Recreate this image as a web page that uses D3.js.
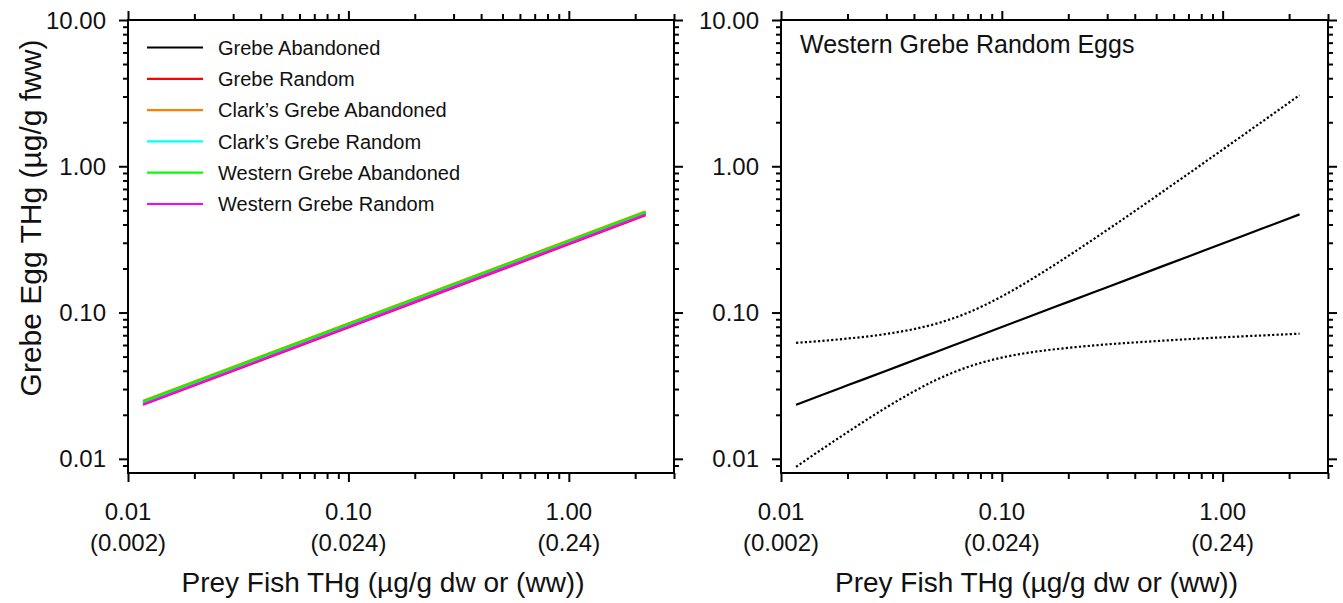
<!DOCTYPE html>
<html lang="en">
  <head>
    <meta charset="utf-8">
    <title>Grebe egg THg vs prey fish THg</title>
    <script src="https://d3js.org/d3.v7.min.js"></script>
    <style type="text/css">
      body { margin: 0; background: #fff; }
      svg { font-family: "Liberation Sans", Arial, sans-serif; }
      .frame { fill: none; stroke: #000; stroke-width: 2px; }
      .axis path { display: none; }
      .axis line { stroke: #000; stroke-width: 2px; }
      .ticklab { font-size: 24px; fill: #111; }
      .title { font-size: 28px; fill: #111; }
      .legtext { font-size: 20px; fill: #111; }
      .fitline { fill: none; stroke-width: 2.2px; }
      .ci { fill: none; stroke: #000; stroke-width: 2.2px; stroke-dasharray: 2.2,2.2; }
    </style>
  </head>
  <body>
    <script>
      var w = 1343;
      var h = 603;

      // tick labels
      var xTicks = [0.01, 0.1, 1];
      var xTickLabels = ["0.01", "0.10", "1.00"];
      var xTickSub = ["(0.002)", "(0.024)", "(0.24)"];
      var yTicks = [0.01, 0.1, 1, 10];
      var yTickLabels = ["0.01", "0.10", "1.00", "10.00"];

      // left panel: fitted lines (endpoints)
      var lineX = [0.0117, 2.23];
      var seriesNames = ["Grebe Abandoned", "Grebe Random", "Clark\u2019s Grebe Abandoned",
          "Clark\u2019s Grebe Random", "Western Grebe Abandoned", "Western Grebe Random"];
      var seriesColors = ["#000000", "#ff0000", "#ff8000", "#00ffff", "#00ff00", "#ff00ff"];
      var grebeAbandoned = [0.0243, 0.480];
      var grebeRandom = [0.0234, 0.462];
      var clarksAbandoned = [0.0249, 0.493];
      var clarksRandom = [0.0240, 0.475];
      var westernAbandoned = [0.0246, 0.486];
      var westernRandom = [0.0236, 0.468];
      var seriesValues = [grebeAbandoned, grebeRandom, clarksAbandoned,
          clarksRandom, westernAbandoned, westernRandom];

      // right panel: Western Grebe random eggs, fit and confidence band
      var ciX = [0.0117, 0.015, 0.02, 0.03, 0.04, 0.05, 0.07, 0.1, 0.15,
          0.2, 0.3, 0.5, 0.7, 1.0, 1.5, 2.23];
      var ciFit = [0.0234, 0.0270, 0.0318, 0.0400, 0.0472, 0.0536, 0.0650, 0.0796,
          0.1004, 0.1183, 0.1491, 0.1996, 0.2419, 0.2966, 0.3738, 0.4688];
      var ciUpper = [0.0621, 0.0638, 0.0664, 0.0714, 0.0771, 0.0836, 0.0996, 0.129,
          0.1846, 0.2438, 0.367, 0.624, 0.890, 1.300, 2.004, 3.064];
      var ciLower = [0.00881, 0.01138, 0.0152, 0.02245, 0.0289, 0.0344, 0.0424, 0.0492,
          0.0546, 0.0574, 0.0606, 0.0638, 0.0658, 0.0677, 0.0697, 0.0717];

      var svg = d3.select("body").append("svg")
          .attr("width", w).attr("height", h);

      var plotTop = 20, plotBottom = 473;
      var yScale = d3.scaleLog().domain([0.008, 10]).range([plotBottom, plotTop]);

      var yMinor = [0.009];
      [0.01, 0.1, 1].forEach(function(d) {
        for (var k = 2; k <= 9; k++) yMinor.push(d * k);
      });
      var xMinor = [];
      [0.01, 0.1].forEach(function(d) {
        for (var k = 2; k <= 9; k++) xMinor.push(d * k);
      });
      xMinor.push(2, 3);

      function panel(x0, x1) {
        var xScale = d3.scaleLog().domain([0.01, 3]).range([x0, x1]);
        var g = svg.append("g");

        // ticks on all four sides, pointing outward
        g.append("g").attr("class", "axis").attr("transform", "translate(" + x0 + ",0)")
          .call(d3.axisLeft(yScale).tickValues(yMinor).tickSize(5).tickFormat(""));
        g.append("g").attr("class", "axis").attr("transform", "translate(" + x0 + ",0)")
          .call(d3.axisLeft(yScale).tickValues(yTicks).tickSize(9).tickFormat(""));
        g.append("g").attr("class", "axis").attr("transform", "translate(" + x1 + ",0)")
          .call(d3.axisRight(yScale).tickValues(yMinor).tickSize(5).tickFormat(""));
        g.append("g").attr("class", "axis").attr("transform", "translate(" + x1 + ",0)")
          .call(d3.axisRight(yScale).tickValues(yTicks).tickSize(9).tickFormat(""));
        g.append("g").attr("class", "axis").attr("transform", "translate(0," + plotBottom + ")")
          .call(d3.axisBottom(xScale).tickValues(xMinor).tickSize(6).tickFormat(""));
        g.append("g").attr("class", "axis").attr("transform", "translate(0," + plotBottom + ")")
          .call(d3.axisBottom(xScale).tickValues(xTicks).tickSize(9).tickFormat(""));
        g.append("g").attr("class", "axis").attr("transform", "translate(0," + plotTop + ")")
          .call(d3.axisTop(xScale).tickValues(xMinor).tickSize(6).tickFormat(""));
        g.append("g").attr("class", "axis").attr("transform", "translate(0," + plotTop + ")")
          .call(d3.axisTop(xScale).tickValues(xTicks).tickSize(9).tickFormat(""));

        g.append("rect").attr("class", "frame")
          .attr("x", x0).attr("y", plotTop)
          .attr("width", x1 - x0).attr("height", plotBottom - plotTop);

        // tick labels
        g.selectAll(".ylab").data(yTicks).enter().append("text")
          .attr("class", "ticklab")
          .attr("x", x0 - 22).attr("y", d => yScale(d))
          .attr("dy", "0.36em").attr("text-anchor", "end")
          .text((d, i) => yTickLabels[i]);
        g.selectAll(".xlab").data(xTicks).enter().append("text")
          .attr("class", "ticklab")
          .attr("x", d => xScale(d)).attr("y", 520)
          .attr("text-anchor", "middle")
          .text((d, i) => xTickLabels[i]);
        g.selectAll(".xsub").data(xTicks).enter().append("text")
          .attr("class", "ticklab")
          .attr("x", d => xScale(d)).attr("y", 551)
          .attr("text-anchor", "middle")
          .text((d, i) => xTickSub[i]);

        g.append("text").attr("class", "title")
          .attr("x", (x0 + x1) / 2 - 18).attr("y", 592)
          .attr("text-anchor", "middle")
          .text("Prey Fish THg (\u00b5g/g dw or (ww))");

        return { g: g, x: xScale };
      }

      // left panel
      var left = panel(128, 674);
      var lineGen = d3.line()
        .x(d => left.x(d[0]))
        .y(d => yScale(d[1]));

      seriesValues.forEach(function(vals, i) {
        left.g.append("path")
          .datum(lineX.map((x, j) => [x, vals[j]]))
          .attr("class", "fitline")
          .attr("stroke", seriesColors[i])
          .attr("d", lineGen);
      });

      var legend = left.g.append("g");
      seriesNames.forEach(function(name, i) {
        var yy = 47.5 + i * 31.3;
        legend.append("line")
          .attr("x1", 147).attr("x2", 203).attr("y1", yy).attr("y2", yy)
          .attr("stroke", seriesColors[i]).attr("stroke-width", 2.2);
        legend.append("text").attr("class", "legtext")
          .attr("x", 218).attr("y", yy).attr("dy", "0.36em")
          .text(name);
      });

      svg.append("text").attr("class", "title")
        .style("font-size", "30px")
        .attr("transform", "translate(41,218) rotate(-90)")
        .attr("text-anchor", "middle")
        .text("Grebe Egg THg (\u00b5g/g fww)");

      // right panel
      var right = panel(781, 1328);
      var rightGen = d3.line()
        .x(d => right.x(d[0]))
        .y(d => yScale(d[1]))
        .curve(d3.curveMonotoneX);

      right.g.append("path")
        .datum(ciX.map((x, j) => [x, ciUpper[j]]))
        .attr("class", "ci").attr("d", rightGen);
      right.g.append("path")
        .datum(ciX.map((x, j) => [x, ciLower[j]]))
        .attr("class", "ci").attr("d", rightGen);
      right.g.append("path")
        .datum(ciX.map((x, j) => [x, ciFit[j]]))
        .attr("class", "fitline").attr("stroke", "#000").attr("d", rightGen);

      right.g.append("text")
        .attr("x", 800).attr("y", 53)
        .style("font-size", "25px").style("fill", "#111")
        .text("Western Grebe Random Eggs");
    </script>
  </body>
</html>
